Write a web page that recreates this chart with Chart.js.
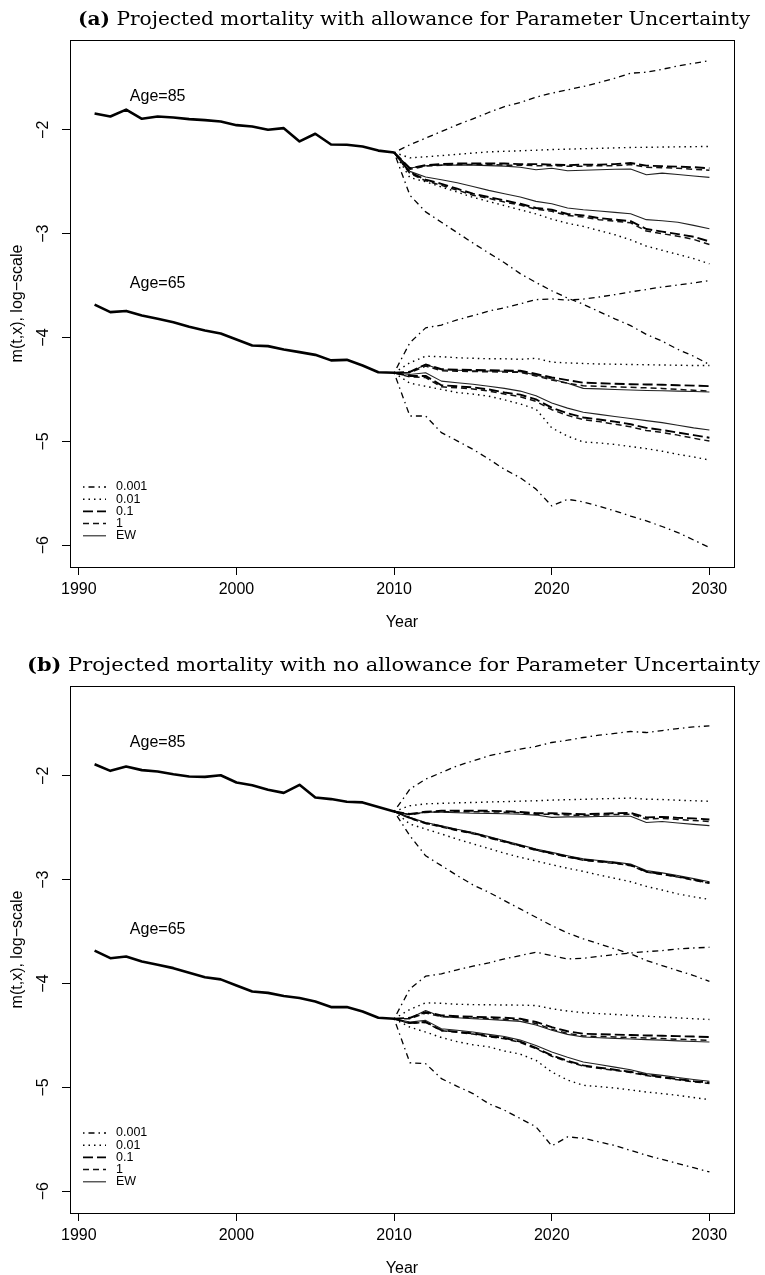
<!DOCTYPE html>
<html><head><meta charset="utf-8">
<script src="https://cdn.jsdelivr.net/npm/chart.js@4"></script>
<style>
html,body{margin:0;padding:0;background:#fff;}
#wrap{position:relative;width:765px;height:1292px;overflow:hidden;background:#fff}
canvas{position:absolute;left:0}
.ttl{position:absolute;font-family:"DejaVu Serif";font-size:19px;white-space:nowrap;transform-origin:0 50%;color:#000;line-height:19px;height:19px}
.ttl b{font-weight:bold}
</style></head><body>
<div id="wrap">
<canvas id="ca" width="765" height="646" style="top:0"></canvas>
<canvas id="cb" width="765" height="646" style="top:646px"></canvas>
<div class="ttl" id="ta" style="left:78px;top:9px"><b>(a)</b> Projected mortality with allowance for Parameter Uncertainty</div>
<div class="ttl" id="tb" style="left:27px;top:655px"><b>(b)</b> Projected mortality with no allowance for Parameter Uncertainty</div>
</div>
<script>
// ---------------- data ----------------
const histYears = [1991,1992,1993,1994,1995,1996,1997,1998,1999,2000,2001,2002,2003,2004,2005,2006,2007,2008,2009,2010];
const projYears = [2010,2011,2012,2013,2014,2015,2016,2017,2018,2019,2020,2021,2022,2023,2024,2025,2026,2027,2028,2029,2030];
const xTicks = [1990,2000,2010,2020,2030];
const yTicks = [-6,-5,-4,-3,-2];
const legendLabels = ['0.001','0.01','0.1','1','EW'];
const ageLabels = ['Age=85','Age=65'];

// Panel (a): with allowance for parameter uncertainty
const A_hist85 = [-1.843,-1.872,-1.805,-1.894,-1.872,-1.882,-1.897,-1.907,-1.920,-1.955,-1.968,-2.000,-1.984,-2.112,-2.038,-2.141,-2.144,-2.160,-2.200,-2.218];
const A_hist65 = [-3.683,-3.756,-3.744,-3.788,-3.820,-3.853,-3.897,-3.933,-3.962,-4.019,-4.077,-4.083,-4.115,-4.141,-4.167,-4.220,-4.215,-4.270,-4.335,-4.340];
const A85_p3_hi = [-2.218,-2.144,-2.080,-2.016,-1.952,-1.894,-1.833,-1.776,-1.737,-1.686,-1.647,-1.615,-1.583,-1.545,-1.503,-1.455,-1.445,-1.417,-1.385,-1.359,-1.334];
const A85_p3_lo = [-2.218,-2.630,-2.790,-2.890,-2.990,-3.090,-3.186,-3.280,-3.385,-3.470,-3.550,-3.620,-3.680,-3.750,-3.820,-3.885,-3.970,-4.035,-4.115,-4.180,-4.260];
const A85_p2_hi = [-2.218,-2.270,-2.260,-2.248,-2.236,-2.224,-2.212,-2.207,-2.202,-2.196,-2.190,-2.186,-2.182,-2.178,-2.174,-2.170,-2.168,-2.166,-2.164,-2.162,-2.160];
const A85_p2_lo = [-2.218,-2.460,-2.500,-2.550,-2.600,-2.650,-2.690,-2.730,-2.770,-2.810,-2.860,-2.900,-2.930,-2.970,-3.010,-3.060,-3.120,-3.160,-3.200,-3.240,-3.290];
const A85_p1_hi = [-2.218,-2.370,-2.340,-2.330,-2.325,-2.325,-2.325,-2.325,-2.330,-2.330,-2.335,-2.340,-2.335,-2.335,-2.330,-2.320,-2.345,-2.350,-2.355,-2.360,-2.370];
const A85_p1_lo = [-2.218,-2.410,-2.480,-2.520,-2.567,-2.615,-2.647,-2.680,-2.712,-2.753,-2.770,-2.811,-2.824,-2.850,-2.865,-2.880,-2.955,-2.980,-3.004,-3.030,-3.075];
const A85_p0_hi = [-2.218,-2.380,-2.350,-2.340,-2.335,-2.335,-2.335,-2.340,-2.340,-2.345,-2.345,-2.350,-2.350,-2.345,-2.345,-2.335,-2.360,-2.365,-2.370,-2.380,-2.390];
const A85_p0_lo = [-2.218,-2.420,-2.490,-2.535,-2.580,-2.630,-2.660,-2.695,-2.725,-2.765,-2.785,-2.825,-2.840,-2.865,-2.880,-2.895,-2.975,-3.000,-3.025,-3.055,-3.105];
const A85_ew_hi = [-2.218,-2.368,-2.346,-2.340,-2.340,-2.340,-2.345,-2.350,-2.360,-2.385,-2.370,-2.394,-2.390,-2.385,-2.380,-2.378,-2.433,-2.417,-2.430,-2.445,-2.458];
const A85_ew_lo = [-2.218,-2.400,-2.455,-2.480,-2.510,-2.545,-2.583,-2.615,-2.647,-2.689,-2.712,-2.753,-2.770,-2.782,-2.795,-2.808,-2.865,-2.875,-2.890,-2.920,-2.952];
const A65_p3_hi = [-4.340,-4.050,-3.907,-3.880,-3.830,-3.790,-3.745,-3.714,-3.676,-3.635,-3.628,-3.640,-3.630,-3.610,-3.587,-3.560,-3.538,-3.513,-3.494,-3.474,-3.452];
const A65_p3_lo = [-4.340,-4.756,-4.756,-4.916,-4.995,-5.077,-5.170,-5.270,-5.350,-5.460,-5.622,-5.558,-5.583,-5.625,-5.670,-5.720,-5.766,-5.820,-5.878,-5.950,-6.022];
const A65_p2_hi = [-4.340,-4.243,-4.180,-4.185,-4.195,-4.200,-4.205,-4.205,-4.210,-4.200,-4.237,-4.245,-4.250,-4.255,-4.257,-4.260,-4.262,-4.265,-4.267,-4.270,-4.270];
const A65_p2_lo = [-4.340,-4.440,-4.470,-4.500,-4.530,-4.545,-4.565,-4.600,-4.640,-4.690,-4.870,-4.950,-5.006,-5.015,-5.030,-5.050,-5.070,-5.095,-5.125,-5.150,-5.180];
const A65_p1_hi = [-4.340,-4.330,-4.260,-4.305,-4.310,-4.312,-4.315,-4.318,-4.320,-4.350,-4.385,-4.410,-4.435,-4.440,-4.445,-4.450,-4.452,-4.455,-4.460,-4.463,-4.468];
const A65_p1_lo = [-4.340,-4.370,-4.370,-4.460,-4.470,-4.480,-4.500,-4.530,-4.550,-4.596,-4.676,-4.730,-4.770,-4.790,-4.810,-4.835,-4.870,-4.890,-4.915,-4.940,-4.965];
const A65_p0_hi = [-4.340,-4.340,-4.275,-4.320,-4.325,-4.327,-4.330,-4.333,-4.336,-4.370,-4.410,-4.440,-4.465,-4.470,-4.475,-4.480,-4.485,-4.490,-4.500,-4.508,-4.516];
const A65_p0_lo = [-4.340,-4.380,-4.385,-4.475,-4.485,-4.495,-4.515,-4.545,-4.570,-4.615,-4.695,-4.750,-4.790,-4.810,-4.835,-4.860,-4.895,-4.915,-4.940,-4.970,-4.997];
const A65_ew_hi = [-4.340,-4.335,-4.260,-4.310,-4.315,-4.320,-4.322,-4.325,-4.330,-4.360,-4.400,-4.440,-4.490,-4.495,-4.500,-4.505,-4.510,-4.513,-4.516,-4.520,-4.525];
const A65_ew_lo = [-4.340,-4.356,-4.340,-4.420,-4.435,-4.450,-4.470,-4.490,-4.516,-4.560,-4.630,-4.680,-4.720,-4.740,-4.760,-4.780,-4.800,-4.820,-4.845,-4.870,-4.890];

// Panel (b): with no allowance for parameter uncertainty
const B_hist85 = [-1.888,-1.952,-1.910,-1.945,-1.958,-1.984,-2.006,-2.010,-1.994,-2.064,-2.090,-2.135,-2.164,-2.087,-2.208,-2.224,-2.250,-2.256,-2.300,-2.343];
const B_hist65 = [-3.683,-3.756,-3.740,-3.788,-3.820,-3.852,-3.897,-3.939,-3.960,-4.019,-4.077,-4.090,-4.120,-4.140,-4.173,-4.227,-4.227,-4.270,-4.330,-4.340];
const B85_p3_hi = [-2.343,-2.128,-2.032,-1.968,-1.904,-1.856,-1.808,-1.775,-1.743,-1.717,-1.679,-1.657,-1.631,-1.609,-1.592,-1.573,-1.583,-1.564,-1.545,-1.529,-1.519];
const B85_p3_lo = [-2.343,-2.577,-2.770,-2.865,-2.960,-3.050,-3.121,-3.202,-3.282,-3.362,-3.442,-3.513,-3.570,-3.618,-3.666,-3.714,-3.778,-3.827,-3.875,-3.923,-3.980];
const B85_p2_hi = [-2.343,-2.288,-2.270,-2.265,-2.260,-2.257,-2.252,-2.248,-2.244,-2.240,-2.234,-2.230,-2.226,-2.222,-2.218,-2.214,-2.225,-2.228,-2.235,-2.240,-2.245];
const B85_p2_lo = [-2.343,-2.464,-2.513,-2.560,-2.610,-2.655,-2.700,-2.745,-2.785,-2.820,-2.856,-2.890,-2.920,-2.955,-2.987,-3.020,-3.065,-3.100,-3.137,-3.165,-3.190];
const B85_p1_hi = [-2.343,-2.368,-2.346,-2.337,-2.337,-2.337,-2.337,-2.340,-2.348,-2.360,-2.360,-2.365,-2.370,-2.365,-2.360,-2.358,-2.400,-2.395,-2.405,-2.410,-2.420];
const B85_p1_lo = [-2.343,-2.405,-2.455,-2.487,-2.522,-2.552,-2.592,-2.632,-2.672,-2.712,-2.745,-2.778,-2.808,-2.823,-2.838,-2.860,-2.922,-2.945,-2.970,-3.000,-3.030];
const B85_p0_hi = [-2.343,-2.375,-2.352,-2.345,-2.345,-2.345,-2.347,-2.350,-2.357,-2.370,-2.370,-2.378,-2.380,-2.378,-2.373,-2.370,-2.415,-2.410,-2.420,-2.430,-2.440];
const B85_p0_lo = [-2.343,-2.410,-2.460,-2.492,-2.527,-2.557,-2.597,-2.637,-2.677,-2.717,-2.750,-2.783,-2.813,-2.828,-2.843,-2.865,-2.927,-2.950,-2.975,-3.005,-3.035];
const B85_ew_hi = [-2.343,-2.372,-2.350,-2.350,-2.355,-2.360,-2.362,-2.365,-2.370,-2.378,-2.400,-2.395,-2.395,-2.392,-2.390,-2.390,-2.450,-2.440,-2.455,-2.468,-2.480];
const B85_ew_lo = [-2.343,-2.400,-2.449,-2.480,-2.515,-2.545,-2.585,-2.625,-2.665,-2.705,-2.737,-2.770,-2.800,-2.815,-2.830,-2.850,-2.913,-2.935,-2.960,-2.990,-3.020];
const B65_p3_hi = [-4.340,-4.051,-3.929,-3.907,-3.868,-3.833,-3.801,-3.763,-3.731,-3.698,-3.731,-3.763,-3.757,-3.738,-3.722,-3.706,-3.693,-3.683,-3.667,-3.658,-3.651];
const B65_p3_lo = [-4.340,-4.763,-4.772,-4.916,-4.990,-5.060,-5.157,-5.220,-5.300,-5.380,-5.564,-5.477,-5.490,-5.525,-5.560,-5.607,-5.654,-5.694,-5.734,-5.774,-5.814];
const B65_p2_hi = [-4.340,-4.250,-4.186,-4.190,-4.200,-4.203,-4.205,-4.207,-4.208,-4.212,-4.243,-4.265,-4.281,-4.290,-4.298,-4.307,-4.315,-4.323,-4.331,-4.339,-4.346];
const B65_p2_lo = [-4.340,-4.420,-4.468,-4.520,-4.560,-4.590,-4.610,-4.650,-4.680,-4.740,-4.852,-4.930,-4.980,-4.993,-5.006,-5.025,-5.045,-5.060,-5.077,-5.098,-5.118];
const B65_p1_hi = [-4.340,-4.330,-4.275,-4.307,-4.315,-4.320,-4.325,-4.330,-4.339,-4.370,-4.420,-4.460,-4.484,-4.488,-4.492,-4.496,-4.500,-4.503,-4.507,-4.511,-4.515];
const B65_p1_lo = [-4.340,-4.380,-4.370,-4.450,-4.465,-4.480,-4.505,-4.525,-4.560,-4.620,-4.692,-4.745,-4.788,-4.810,-4.830,-4.850,-4.880,-4.900,-4.920,-4.940,-4.955];
const B65_p0_hi = [-4.340,-4.340,-4.285,-4.318,-4.325,-4.330,-4.337,-4.343,-4.352,-4.385,-4.440,-4.480,-4.505,-4.510,-4.515,-4.520,-4.525,-4.530,-4.537,-4.542,-4.547];
const B65_p0_lo = [-4.340,-4.385,-4.375,-4.455,-4.470,-4.487,-4.512,-4.532,-4.567,-4.628,-4.700,-4.752,-4.795,-4.817,-4.837,-4.857,-4.887,-4.907,-4.927,-4.947,-4.962];
const B65_ew_hi = [-4.340,-4.335,-4.260,-4.320,-4.330,-4.340,-4.347,-4.355,-4.365,-4.400,-4.450,-4.490,-4.515,-4.522,-4.528,-4.535,-4.540,-4.545,-4.552,-4.558,-4.563];
const B65_ew_lo = [-4.340,-4.370,-4.355,-4.435,-4.450,-4.467,-4.490,-4.510,-4.545,-4.596,-4.660,-4.710,-4.756,-4.780,-4.805,-4.830,-4.868,-4.885,-4.905,-4.925,-4.942];

// ---------------- styles & layout ----------------
const STY = {
  '0.001': {borderDash:[1.5,4,6,4], borderWidth:1.3, borderColor:'#000'},
  '0.01':  {borderDash:[1.5,4],     borderWidth:1.4, borderColor:'#000'},
  '0.1':   {borderDash:[10,4],      borderWidth:1.9, borderColor:'#000'},
  '1':     {borderDash:[6,4],       borderWidth:1.5, borderColor:'#111'},
  'EW':    {borderDash:[],          borderWidth:1.1, borderColor:'#222'}
};
const X_MIN = 1989.44, X_MAX = 2031.56, Y_MIN = -6.21, Y_MAX = -1.135;
const AGE_LABEL_X = 1995, AGE_LABEL_Y = [-1.68, -3.48];
const SANS = '"Liberation Sans", Arial, sans-serif';

const PANELS = {
  a: {hist:[A_hist85, A_hist65], proj:{
    '0.001':[A85_p3_hi,A85_p3_lo,A65_p3_hi,A65_p3_lo],
    '0.01':[A85_p2_hi,A85_p2_lo,A65_p2_hi,A65_p2_lo],
    '0.1':[A85_p1_hi,A85_p1_lo,A65_p1_hi,A65_p1_lo],
    '1':[A85_p0_hi,A85_p0_lo,A65_p0_hi,A65_p0_lo],
    'EW':[A85_ew_hi,A85_ew_lo,A65_ew_hi,A65_ew_lo]}},
  b: {hist:[B_hist85, B_hist65], proj:{
    '0.001':[B85_p3_hi,B85_p3_lo,B65_p3_hi,B65_p3_lo],
    '0.01':[B85_p2_hi,B85_p2_lo,B65_p2_hi,B65_p2_lo],
    '0.1':[B85_p1_hi,B85_p1_lo,B65_p1_hi,B65_p1_lo],
    '1':[B85_p0_hi,B85_p0_lo,B65_p0_hi,B65_p0_lo],
    'EW':[B85_ew_hi,B85_ew_lo,B65_ew_hi,B65_ew_lo]}}
};

function pts(xs, ys){ return xs.map((x,i)=>({x:x, y:ys[i]})); }

function buildDatasets(panel){
  const ds = [];
  legendLabels.forEach(lev=>{
    panel.proj[lev].forEach((arr,k)=>{
      ds.push(Object.assign({label: lev, data: pts(projYears, arr), pointRadius:0, fill:false, tension:0,
        borderCapStyle:'butt', borderJoinStyle:'round'}, STY[lev]));
    });
  });
  panel.hist.forEach(arr=>{
    ds.push({label:'observed', data: pts(histYears, arr), borderColor:'#000', borderWidth:2.6,
      pointRadius:0, fill:false, tension:0, borderJoinStyle:'round'});
  });
  return ds;
}

const decorPlugin = {
  id:'decor',
  afterDatasetsDraw(chart){
    const {ctx, chartArea:ca, scales} = chart;
    ctx.save();
    // frame
    ctx.setLineDash([]);
    ctx.strokeStyle = '#000'; ctx.lineWidth = 1;
    ctx.strokeRect(Math.round(ca.left)+0.5, Math.round(ca.top)+0.5, Math.round(ca.right-ca.left), Math.round(ca.bottom-ca.top));
    // age labels
    ctx.fillStyle = '#000';
    ctx.font = '16px ' + SANS;
    ctx.textAlign = 'center'; ctx.textBaseline = 'middle';
    ageLabels.forEach((t,i)=>{
      ctx.fillText(t, scales.x.getPixelForValue(AGE_LABEL_X), scales.y.getPixelForValue(AGE_LABEL_Y[i]));
    });
    // legend
    ctx.font = '12.5px ' + SANS;
    ctx.textAlign = 'left';
    legendLabels.forEach((lab,i)=>{
      const y = ca.bottom - 80 + i*12.2;
      const st = STY[lab];
      ctx.beginPath();
      ctx.setLineDash(st.borderDash); ctx.lineWidth = st.borderWidth; ctx.strokeStyle = st.borderColor;
      ctx.moveTo(ca.left+13, y); ctx.lineTo(ca.left+36, y); ctx.stroke();
      ctx.fillText(lab, ca.left+46, y);
    });
    ctx.restore();
  }
};

function makeChart(id, panel){
  return new Chart(document.getElementById(id), {
    type:'line',
    data:{datasets: buildDatasets(panel)},
    plugins:[decorPlugin],
    options:{
      responsive:false, animation:false, devicePixelRatio:1,
      layout:{padding:{left:0, right:31, top:40, bottom:0}},
      plugins:{legend:{display:false}, tooltip:{enabled:false}, title:{display:false}},
      events:[],
      scales:{
        x:{type:'linear', min:X_MIN, max:X_MAX,
          afterBuildTicks:s=>{ s.ticks = xTicks.map(v=>({value:v})); },
          afterFit:s=>{ s.height = 79; },
          grid:{drawOnChartArea:false, drawTicks:true, tickLength:8, color:'#000', lineWidth:1},
          border:{display:true, color:'#000', width:1},
          ticks:{font:{family:SANS, size:16}, color:'#000', padding:5, maxRotation:0, autoSkip:false,
            callback:v=>String(v)},
          title:{display:true, text:'Year', font:{family:SANS, size:16}, color:'#000', padding:{top:0, bottom:14}}
        },
        y:{type:'linear', min:Y_MIN, max:Y_MAX,
          afterBuildTicks:s=>{ s.ticks = yTicks.map(v=>({value:v})); },
          afterFit:s=>{ s.width = 70; },
          grid:{drawOnChartArea:false, drawTicks:true, tickLength:8, color:'#000', lineWidth:1},
          border:{display:true, color:'#000', width:1},
          ticks:{font:{family:SANS, size:16}, color:'#000', padding:9, minRotation:90, maxRotation:90,
            crossAlign:'center', autoSkip:false,
            callback:v=>(v<0?'\u2212':'')+Math.abs(v)},
          title:{display:true, text:'m(t,x), log\u2212scale', font:{family:SANS, size:16}, color:'#000', padding:{top:8, bottom:0}}
        }
      }
    }
  });
}

makeChart('ca', PANELS.a);
makeChart('cb', PANELS.b);

// fit titles to their measured span
function fitTitle(id, w){
  const el = document.getElementById(id);
  const cur = el.getBoundingClientRect().width;
  el.style.transform = 'scaleX(' + (w/cur) + ')';
}
fitTitle('ta', 672);
fitTitle('tb', 733);
</script>
</body></html>
